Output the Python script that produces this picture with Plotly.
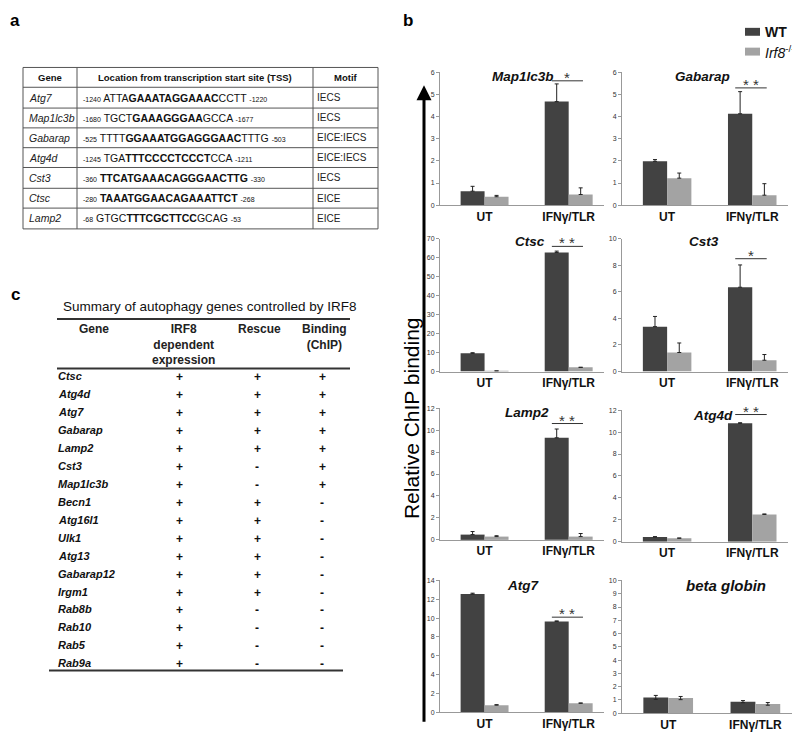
import plotly.graph_objects as go

# %%
# panel a: IRF8 binding sites
site_genes = ["Atg7", "Map1lc3b", "Gabarap", "Atg4d", "Cst3", "Ctsc", "Lamp2"]
site_start = ["-1240", "-1680", "-525", "-1245", "-360", "-280", "-68"]
site_pre = ["ATTA", "TGCT", "TTTT", "TGA", "", "", "GTGC"]
site_core = ["GAAATAGGAAAC", "GAAAGGGAA", "GGAAATGGAGGGAAC", "TTTCCCCTCCCT",
             "TTCATGAAACAGGGAACTTG", "TAAATGGAACAGAAATTCT", "TTTCGCTTCC"]
site_post = ["CCTT", "GCCA", "TTTG", "CCA", "", "", "GCAG"]
site_end = ["-1220", "-1677", "-503", "-1211", "-330", "-268", "-53"]
site_motif = ["IECS", "IECS", "EICE:IECS", "EICE:IECS", "IECS", "EICE", "EICE"]

# panel c: summary table
sum_genes = ["Ctsc", "Atg4d", "Atg7", "Gabarap", "Lamp2", "Cst3", "Map1lc3b", "Becn1",
             "Atg16l1", "Ulk1", "Atg13", "Gabarap12", "Irgm1", "Rab8b", "Rab10", "Rab5", "Rab9a"]
sum_expr = ["+"] * 17
sum_rescue = ["+", "+", "+", "+", "+", "-", "-", "+", "+", "+", "+", "+", "+", "-", "-", "-", "-"]
sum_binding = ["+", "+", "+", "+", "+", "+", "+", "-", "-", "-", "-", "-", "-", "-", "-", "-", "-"]

# panel b: ChIP bars
conditions = ["UT", "IFNγ/TLR"]
chip_genes = ["Map1lc3b", "Gabarap", "Ctsc", "Cst3", "Lamp2", "Atg4d", "Atg7", "beta globin"]
wt_vals = [[0.63, 4.68], [1.98, 4.13], [9.6, 62.8], [3.38, 6.35],
           [0.48, 9.3], [0.45, 10.8], [12.55, 9.65], [1.19, 0.87]]
wt_err = [[0.22, 0.8], [0.08, 1.0], [0.3, 0.7], [0.77, 1.68],
          [0.28, 0.8], [0.02, 0.05], [0.1, 0.05], [0.15, 0.08]]
ko_vals = [[0.38, 0.48], [1.22, 0.45], [0.3, 2.2], [1.43, 0.85],
           [0.3, 0.3], [0.33, 2.5], [0.75, 0.95], [1.14, 0.7]]
ko_err = [[0.06, 0.3], [0.23, 0.52], [0.0, 0.0], [0.72, 0.43],
          [0.08, 0.28], [0.02, 0.04], [0.05, 0.03], [0.12, 0.1]]
y_max = [6, 6, 70, 10, 12, 12, 14, 10]
y_step = [1, 1, 10, 2, 2, 2, 2, 1]
sig_text = ["*", "* *", "* *", "*", "* *", "* *", "* *", ""]
sig_level = [5.62, 5.3, 66, 8.5, 10.6, 11.6, 10.1, None]

# the page body has an 8px margin, so the figure is a bit smaller and offset
OFF = 8
W, H = 800 - OFF, 736 - OFF
FONT = "Arial, Liberation Sans, sans-serif"
DARK = "#424242"
LIGHT = "#a3a3a3"


def px(x):
    return (x - OFF) / W


def py(y):
    return 1 - (y - OFF) / H


def ann(x, y, text, size, color="#111", xanchor="center", **kw):
    # text placed in page pixels
    return dict(x=px(x), y=py(y), xref="paper", yref="paper", text=text, showarrow=False,
                xanchor=xanchor, yanchor="middle", font=dict(family=FONT, size=size, color=color),
                **kw)


# %%
# pixel boxes of the eight small charts (x0, x1, y_top, y_zero)
boxes = [(440, 604, 69, 203), (622, 788, 69, 203), (440, 604, 237, 371), (622, 788, 237, 371),
         (440, 604, 408, 541), (622, 788, 410, 543), (440, 604, 582, 715), (622, 792, 582, 716)]
title_pos = [(523, 73), (702, 73), (530, 240), (704, 240), (527, 412), (713, 415), (523, 587), (726, 587)]

fig = go.Figure()
shapes = []
annotations = []

for i, gene in enumerate(chip_genes):
    n = "" if i == 0 else str(i + 1)
    sym = gene == "beta globin"
    for name, vals, errs, col in [("WT", wt_vals[i], wt_err[i], DARK),
                                   ("Irf8", ko_vals[i], ko_err[i], LIGHT)]:
        fig.add_trace(go.Bar(
            x=[0, 1], y=vals, name=name, offsetgroup=name,
            marker=dict(color=col, line=dict(width=0)),
            error_y=dict(type="data", array=errs, arrayminus=errs if sym else [0, 0],
                         symmetric=False, color="#222", thickness=1, width=2),
            xaxis="x" + n, yaxis="y" + n, showlegend=False,
        ))
    x0, x1, yt, yb = boxes[i]
    fig.update_layout(**{
        "xaxis" + n: dict(domain=[px(x0), px(x1)], range=[-0.53, 1.42], anchor="y" + n,
                          tickvals=[0, 1], ticktext=["<b>%s</b>" % c for c in conditions],
                          tickfont=dict(family=FONT, size=12, color="#111"), ticks="",
                          showline=True, linecolor="#999", linewidth=1, showgrid=False,
                          zeroline=False, fixedrange=True),
        "yaxis" + n: dict(domain=[py(yb), py(yt)], range=[0, y_max[i]], dtick=y_step[i],
                          anchor="x" + n, tickfont=dict(family=FONT, size=7, color="#333"),
                          ticks="outside", ticklen=3, tickcolor="#999",
                          showline=True, linecolor="#999", linewidth=1, showgrid=False,
                          zeroline=False, fixedrange=True),
    })
    tx, ty = title_pos[i]
    annotations.append(ann(tx, ty, "<b><i>%s</i></b>" % gene, 15 if sym else 13.5))
    if sig_level[i] is not None:
        shapes.append(dict(type="line", xref="x" + n, yref="y" + n, x0=0.8, x1=1.17,
                           y0=sig_level[i], y1=sig_level[i], line=dict(color="#333", width=1)))
        annotations.append(dict(x=0.985, y=sig_level[i], xref="x" + n, yref="y" + n,
                                text=sig_text[i], showarrow=False, xanchor="center",
                                yanchor="bottom", yshift=-7,
                                font=dict(family=FONT, size=15, color="#333")))

# legend drawn by hand
for k, (lbl, col) in enumerate([("<b>WT</b>", DARK), ("<i>Irf8</i><sup>-/-</sup>", LIGHT)]):
    yc = 28 + k * 20
    shapes.append(dict(type="rect", xref="paper", yref="paper", x0=px(745), x1=px(760),
                       y0=py(yc + 4), y1=py(yc - 4), fillcolor=col, line=dict(width=0)))
    annotations.append(ann(763, yc, lbl, 14, xanchor="left"))

# big arrow and axis label
annotations.append(dict(x=px(424), y=py(82), xref="paper", yref="paper", ax=0, ay=638,
                        axref="pixel", ayref="pixel", text="", showarrow=True,
                        arrowhead=2, arrowsize=1, arrowwidth=3, arrowcolor="#000"))
annotations.append(ann(411, 418, "Relative ChIP binding", 21, color="#000", textangle=-90))

# panel letters
for letter, lx, ly in [("a", 15, 17), ("b", 408, 17), ("c", 15, 293)]:
    annotations.append(ann(lx, ly, "<b>%s</b>" % letter, 17, color="#000"))

# %%
# panel a table
ta_left, ta_right, ta_c1, ta_c2 = 23, 378, 77, 313
ta_rows = [64, 84, 105, 125, 145, 165, 186, 206, 227]
line_a = dict(color="#555", width=1)
for yy in ta_rows:
    shapes.append(dict(type="line", xref="paper", yref="paper", x0=px(ta_left), x1=px(ta_right),
                       y0=py(yy), y1=py(yy), line=line_a))
for xx in [ta_left, ta_c1, ta_c2, ta_right]:
    shapes.append(dict(type="line", xref="paper", yref="paper", x0=px(xx), x1=px(xx),
                       y0=py(ta_rows[0]), y1=py(ta_rows[-1]), line=line_a))

for txt, cx in [("Gene", 50), ("Location from transcription start site (TSS)", 195), ("Motif", 346)]:
    annotations.append(ann(cx, 74, "<b>%s</b>" % txt, 9.5))

small = "<span style='font-size:7px'>%s</span>"
for r in range(len(site_genes)):
    yc = (ta_rows[r + 1] + ta_rows[r + 2]) / 2
    annotations.append(ann(27, yc, "<i>%s</i>" % site_genes[r], 10.5, color="#222", xanchor="left"))
    seq = (small % site_start[r]) + " " + site_pre[r] + "<b>" + site_core[r] + "</b>" \
        + site_post[r] + " " + (small % site_end[r])
    annotations.append(ann(81, yc, seq, 10.5, xanchor="left"))
    annotations.append(ann(315, yc, site_motif[r], 10, color="#222", xanchor="left"))

# %%
# panel c table
annotations.append(ann(209, 305, "Summary of autophagy genes controlled by IRF8", 13.5))
for yy, xa, xb in [(318, 57, 350), (368, 57, 350), (673, 49, 343)]:
    shapes.append(dict(type="line", xref="paper", yref="paper", x0=px(xa), x1=px(xb),
                       y0=py(yy), y1=py(yy), line=dict(color="#333", width=2)))

col_x = [179, 257, 322]
for txt, cx, cy in [("<b>Gene</b>", 94, 328), ("<b>IRF8<br>dependent<br>expression</b>", 183, 344),
                    ("<b>Rescue</b>", 259, 328), ("<b>Binding<br>(ChIP)</b>", 324, 336)]:
    annotations.append(ann(cx, cy, txt, 12, color="#222"))

for r, g in enumerate(sum_genes):
    yc = 376 + r * 18.1
    annotations.append(ann(56, yc, "<b><i>%s</i></b>" % g, 11, xanchor="left"))
    for cx, mark in zip(col_x, [sum_expr[r], sum_rescue[r], sum_binding[r]]):
        annotations.append(ann(cx, yc + 1, "<b>%s</b>" % mark, 12))

fig.update_layout(
    width=W, height=H, margin=dict(l=0, r=0, t=0, b=0),
    paper_bgcolor="white", plot_bgcolor="white",
    barmode="group", bargap=0.43, bargroupgap=0,
    shapes=shapes, annotations=annotations, showlegend=False,
)

fig.write_html("out.html")
